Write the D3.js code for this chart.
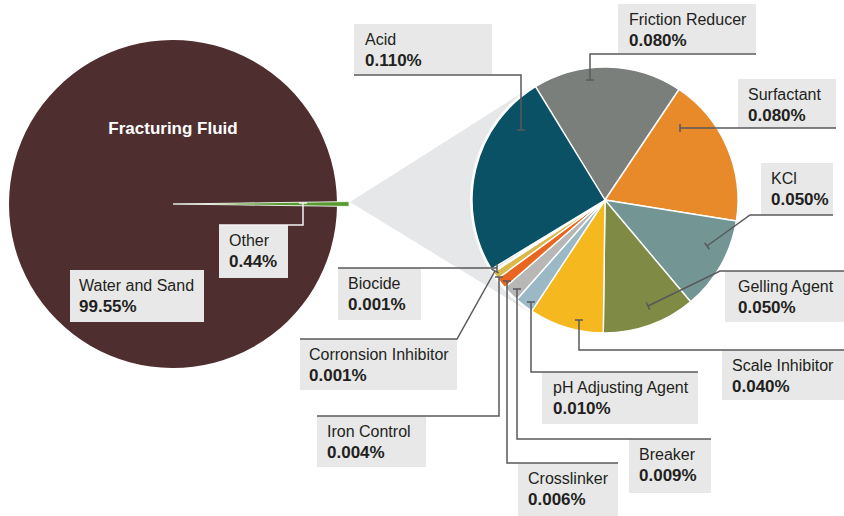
<!DOCTYPE html>
<html><head><meta charset="utf-8">
<script src="https://cdn.jsdelivr.net/npm/d3@7"></script>
<style>body{margin:0;background:#fff}svg{display:block}</style>
</head><body>
<svg id="c" width="844" height="516"></svg>
<script>
// ---- Data ----
const overallCategories = ["Water and Sand", "Other"];
const overallValues = [99.55, 0.44];
const overallLabels = ["99.55%", "0.44%"];

const categories = ["Friction Reducer", "Surfactant", "KCl", "Gelling Agent", "Scale Inhibitor",
  "pH Adjusting Agent", "Breaker", "Crosslinker", "Iron Control", "Corronsion Inhibitor", "Biocide", "Acid"];
const values = [0.080, 0.080, 0.050, 0.050, 0.040, 0.010, 0.009, 0.006, 0.004, 0.001, 0.001, 0.110];
const valueLabels = ["0.080%", "0.080%", "0.050%", "0.050%", "0.040%", "0.010%", "0.009%", "0.006%", "0.004%", "0.001%", "0.001%", "0.110%"];
const colors = ["#7b7f7c", "#e8892a", "#739594", "#7f8a45", "#f6b81f", "#9bb8c6", "#b7b8b6", "#e8661f", "#d9b84c", "#e9dc9c", "#2a6d7d", "#0a5166"];

// ---- Layout (annotation positions) ----
const labelLayout = {
  "Acid":                 {box:[354,24,492,74],  tx:365, leader:[[354,75],[521,75],[521,130]]},
  "Friction Reducer":     {box:[618,4,756,53],   tx:629, leader:[[756,54],[590,54],[590,80]]},
  "Surfactant":           {box:[738,79,836,128], tx:748, leader:[[836,128],[680,128]]},
  "KCl":                  {box:[761,163,833,215],tx:771, leader:[[833,215],[750,215],[707,246]]},
  "Gelling Agent":        {box:[725,271,844,322],tx:738, leader:[[844,271],[720,271],[648,306]]},
  "Scale Inhibitor":      {box:[722,350,844,400],tx:732, leader:[[844,350],[579,350],[579,320]]},
  "pH Adjusting Agent":   {box:[542,372,698,424],tx:553, leader:[[698,372],[531,372],[531,302]]},
  "Breaker":              {box:[629,439,711,493],tx:639, leader:[[711,439],[517,439],[517,289]]},
  "Crosslinker":          {box:[518,463,618,516],tx:528, leader:[[618,463],[507,463],[507,281]]},
  "Iron Control":         {box:[317,416,426,467],tx:327, leader:[[317,416],[499,416],[499,277]]},
  "Corronsion Inhibitor": {box:[300,339,457,390],tx:309, leader:[[300,339],[457,339],[495,271]]},
  "Biocide":              {box:[338,268,421,320],tx:348, leader:[[338,268],[497,268]]},
  "Water and Sand":       {box:[70,270,204,322], tx:79,  leader:null},
  "Other":                {box:[219,225,288,278],tx:229, leader:[[219,225],[303,225],[303,203]], light:true}
};

const svg = d3.select("#c");
const FONT = "'Liberation Sans', Arial, sans-serif";

// ---- Left pie ----
const L = {cx:173, cy:204, r:164};
const totalL = d3.sum(overallValues);
const otherSpan = overallValues[1] / totalL * 2 * Math.PI;
const pieL = d3.pie().sort(null).value(d => d)
  .startAngle(Math.PI/2 - otherSpan/2 - (2*Math.PI - otherSpan))
  .endAngle(Math.PI/2 + otherSpan/2);
const arcsL = pieL(overallValues);

// gray connector (behind everything on right)
const R = {cx:605, cy:200, r:133};
const tip = [350, 202];
{
  const dx = R.cx - tip[0], dy = R.cy - tip[1];
  const d = Math.hypot(dx, dy);
  const rr = R.r + 2;
  const base = Math.atan2(dy, dx);
  const off = Math.asin(rr / d);
  const len = Math.sqrt(d*d - rr*rr);
  const t1 = [tip[0] + len*Math.cos(base - off), tip[1] + len*Math.sin(base - off)];
  const t2 = [tip[0] + len*Math.cos(base + off), tip[1] + len*Math.sin(base + off)];
  svg.append("path")
    .attr("d", d3.line()([tip, t1, [R.cx, R.cy], t2]) + "Z")
    .attr("fill", "#e6e7e8");
}

const gL = svg.append("g").attr("transform", `translate(${L.cx},${L.cy})`);
gL.append("path")
  .attr("d", d3.arc().innerRadius(0).outerRadius(L.r)(arcsL[0]))
  .attr("fill", "#4f2e30");
gL.append("path")
  .attr("d", d3.arc().innerRadius(0).outerRadius(L.r + 12)(arcsL[1]))
  .attr("fill", "#5a9b31")
  .attr("stroke", "#ffffff").attr("stroke-width", 0.8);

gL.append("text")
  .attr("x", 0).attr("y", -70)
  .attr("text-anchor", "middle")
  .attr("font-family", FONT).attr("font-weight", "bold").attr("font-size", 17)
  .attr("fill", "#ffffff")
  .text("Fracturing Fluid");

// ---- Right pie ----
const startA = -31.5 * Math.PI / 180;
const pieR = d3.pie().sort(null).value(d => d).startAngle(startA).endAngle(startA + 2*Math.PI);
const arcsR = pieR(values);
const gR = svg.append("g").attr("transform", `translate(${R.cx},${R.cy})`);
gR.append("circle").attr("r", R.r + 2).attr("fill", "#ffffff");
gR.selectAll("path.slice").data(arcsR).join("path")
  .attr("class", "slice")
  .attr("d", d3.arc().innerRadius(0).outerRadius(R.r))
  .attr("fill", (d, i) => colors[i])
  .attr("stroke", "#ffffff")
  .attr("stroke-width", 1.4)
  .attr("stroke-linejoin", "round");

// ---- Labels ----
function drawLabel(name, val) {
  const lay = labelLayout[name];
  const [x0, y0, x1, y1] = lay.box;
  svg.append("rect").attr("x", x0).attr("y", y0).attr("width", x1 - x0).attr("height", y1 - y0)
    .attr("fill", "#e8e8e8");
  svg.append("text").attr("x", lay.tx).attr("y", y0 + 21)
    .attr("font-family", FONT).attr("font-size", 16).attr("fill", "#231f20").text(name);
  svg.append("text").attr("x", lay.tx).attr("y", y0 + 42)
    .attr("font-family", FONT).attr("font-weight", "bold").attr("font-size", 17).attr("fill", "#231f20").text(val);
}
function drawLeader(name) {
  const lay = labelLayout[name];
  if (!lay.leader) return;
  const col = lay.light ? "#f2f2f2" : "#58595b";
  const pts = lay.leader;
  svg.append("path").attr("d", d3.line()(pts)).attr("fill", "none")
    .attr("stroke", col).attr("stroke-width", 1.5);
  const a = pts[pts.length - 2], b = pts[pts.length - 1];
  const ang = Math.atan2(b[1] - a[1], b[0] - a[0]) + Math.PI/2;
  const h = 4;
  svg.append("line")
    .attr("x1", b[0] - h*Math.cos(ang)).attr("y1", b[1] - h*Math.sin(ang))
    .attr("x2", b[0] + h*Math.cos(ang)).attr("y2", b[1] + h*Math.sin(ang))
    .attr("stroke", col).attr("stroke-width", 1.5);
}

overallCategories.forEach((c, i) => drawLabel(c, overallLabels[i]));
categories.forEach((c, i) => drawLabel(c, valueLabels[i]));
overallCategories.forEach(c => drawLeader(c));
categories.forEach(c => drawLeader(c));
</script>
</body></html>
